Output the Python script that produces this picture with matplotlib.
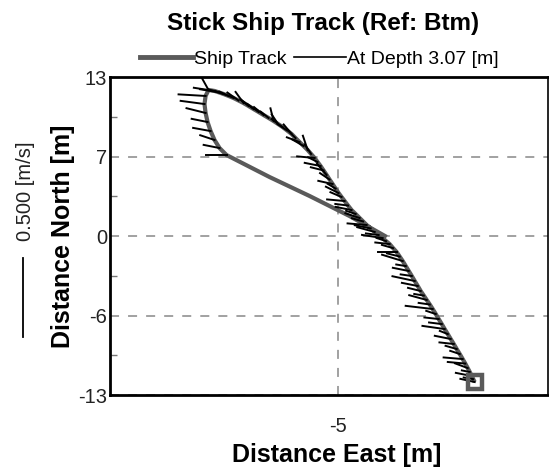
import matplotlib.pyplot as plt
import matplotlib.transforms as mtransforms
from matplotlib.lines import Line2D

plt.rcParams['font.family'] = ['Liberation Sans', 'DejaVu Sans']

# ship track (east, north) in m, starting at the square marker
# lower leg, upper leg, loop back down the west side, then the straight return
track_east = [6.20, 6.08, 5.96, 5.80, 5.63, 5.43, 5.22, 4.98, 4.73, 4.49, 4.24, 4.00,
              3.75, 3.51, 3.26, 3.02, 2.77, 2.53, 2.28, 2.04, 1.79, 1.55, 1.30, 1.06,
              0.81, 0.57, 0.32, 0.07, -0.18, -0.47, -0.75, -1.04, -1.32, -1.65, -1.97,
              -2.30, -2.63, -2.92, -3.20, -3.53, -3.86, -4.15, -4.43, -4.68, -4.92,
              -5.17, -5.41, -5.66, -5.90, -6.15, -6.39, -6.64, -6.88, -7.17, -7.45,
              -7.78, -8.11, -8.44, -8.76, -9.13, -9.50, -9.87, -10.23, -10.64, -11.05,
              -11.46, -11.87, -12.28, -12.69, -13.10, -13.50, -13.91, -14.32, -14.69,
              -15.06, -15.55,
              -15.79, -15.88, -15.79, -15.63, -15.38, -15.06, -14.65, -14.08,
              -10.56, -7.29, -4.02, -0.99]
track_north = [-11.94, -11.70, -11.45, -11.12, -10.80, -10.43, -10.06, -9.65, -9.24,
               -8.83, -8.42, -8.02, -7.61, -7.20, -6.79, -6.38, -5.97, -5.60, -5.23,
               -4.87, -4.50, -4.09, -3.68, -3.27, -2.86, -2.46, -2.05, -1.68, -1.31,
               -0.99, -0.66, -0.42, -0.17, 0.08, 0.33,
               0.62, 0.90, 1.19, 1.47, 1.80, 2.12, 2.49, 2.86, 3.19, 3.51, 3.88, 4.25,
               4.62, 4.99, 5.36, 5.72, 6.05, 6.38, 6.71, 7.03, 7.36, 7.68, 8.01, 8.34,
               8.63, 8.91, 9.16, 9.40, 9.65, 9.89, 10.14, 10.38, 10.63, 10.87, 11.08,
               11.28, 11.45, 11.61, 11.74, 11.86, 11.94,
               11.45, 10.79, 10.06, 9.32, 8.58, 7.85, 7.19, 6.62,
               4.82, 3.27, 1.63, -0.08]

# velocity at depth 3.07 m for each ensemble with valid data (m/s)
vel_east = [-0.09, -0.06, -0.10, -0.05, -0.08, -0.11, -0.12, -0.06, -0.07, -0.09,
            -0.10, -0.05, -0.14, -0.08, -0.09, -0.06, -0.17, -0.07, -0.11, -0.06,
            -0.08, -0.10, -0.14, -0.07, -0.10, -0.06, -0.13, -0.08, -0.12, -0.07,
            -0.09, -0.06, -0.13, -0.08, -0.11,
            -0.10, -0.12, -0.07, -0.09, -0.06, -0.10, -0.08, -0.11, -0.07, -0.08,
            -0.05, -0.09, -0.06, -0.06, -0.08, -0.10, -0.06, -0.11, -0.04, -0.03,
            -0.07, -0.08, -0.05, -0.05, -0.06, -0.07, -0.04, -0.02, -0.05, -0.06,
            -0.07, -0.08, -0.05, -0.05, -0.07, -0.09, -0.08, -0.10, -0.12, -0.13,
            -0.05,
            -0.17, -0.15, -0.12, -0.10, -0.11, -0.09, -0.10, -0.13]
vel_north = [0.02, 0.01, 0.02, 0.01, 0.03, 0.01, 0.01, 0.02, 0.02, 0.01,
             0.02, 0.02, 0.02, 0.01, 0.01, 0.02, 0.02, 0.01, 0.03, 0.01,
             0.02, 0.02, 0.03, 0.01, 0.02, 0.01, 0.04, 0.02, 0.00, 0.02,
             0.01, 0.02, 0.02, 0.01, 0.03,
             0.02, 0.01, 0.02, 0.03, 0.02, 0.02, 0.01, 0.01, 0.03, 0.04,
             0.03, 0.02, 0.04, 0.07, 0.02, 0.02, 0.03, 0.01, 0.06, 0.09,
             0.04, 0.03, 0.05, 0.06, 0.04, 0.05, 0.06, 0.08, 0.04, 0.05,
             0.05, 0.06, 0.04, 0.07, 0.05, 0.04, 0.03, 0.03, 0.02, 0.02,
             0.09,
             0.01, 0.02, 0.03, 0.02, 0.02, 0.03, 0.02, 0.00]

ref_speed = 0.5          # m/s shown by the scale bar
scale = 13.0             # metres of plot per m/s

ytick_pos = [-13, -6.5, 0, 6.5, 13]
ytick_lab = ['-13', '-6', '0', '7', '13']
yminor_pos = [-9.75, -3.25, 3.25, 9.75]
xtick_pos = [-5]
xtick_lab = ['-5']

fig = plt.figure(figsize=(5.49, 4.73), dpi=100)
ax = fig.add_axes([0.2004, 0.1649, 0.798, 0.6723])

track_col = '#5a5a5a'
ax.plot(track_east, track_north, color=track_col, lw=3, solid_capstyle='butt',
        zorder=2)

for i in range(len(vel_east)):
    x0, y0 = track_east[i], track_north[i]
    ax.plot([x0, x0 + vel_east[i] * scale], [y0, y0 + vel_north[i] * scale],
            color='black', lw=1.4, zorder=3)

ax.plot(track_east[0], track_north[0], marker='s', ms=10, mfc='none',
        mec=track_col, mew=3.2, zorder=4)

ax.set_xlim(-23.6, 12.2)
ax.set_ylim(-13, 13)
ax.set_yticks(ytick_pos)
ax.set_yticklabels(ytick_lab)
ax.set_yticks(yminor_pos, minor=True)
ax.set_xticks(xtick_pos)
ax.set_xticklabels(xtick_lab)
ax.tick_params(axis='both', which='major', length=0, labelsize=14.5, labelcolor='#222222')
ax.tick_params(axis='y', which='major', pad=2)
ax.tick_params(axis='x', which='major', pad=16)
ax.tick_params(axis='y', which='minor', direction='in', length=5, width=1, color='#777777')
ax.grid(True, which='major', color='#9a9a9a', ls=(0, (5, 5)), lw=1.3)

for side in ['top', 'bottom', 'left']:
    ax.spines[side].set_linewidth(2)
ax.spines['right'].set_linewidth(1.2)

ax.set_xlabel('Distance East [m]', fontsize=18, fontweight='bold')
ax.xaxis.set_label_coords(0.518, -0.15)
ax.set_ylabel('Distance North [m]', fontsize=18, fontweight='bold', labelpad=2)

fig.text(0.588, 0.951, 'Stick Ship Track (Ref: Btm)', fontsize=17.5, fontweight='bold',
         ha='center', va='center')

handles = [Line2D([], [], color=track_col, lw=3.5),
           Line2D([], [], color='black', lw=1.2)]
fig.legend(handles, ['Ship Track', 'At Depth 3.07 [m]'], loc='center',
           bbox_to_anchor=(0.582, 0.875), ncol=2, frameon=False, fontsize=14,
           handlelength=2.7, handletextpad=0.05, columnspacing=0.4)

# velocity scale bar on the left
trans = mtransforms.blended_transform_factory(fig.transFigure, ax.transData)
ax.add_line(Line2D([0.042, 0.042], [-8.26, -8.26 + ref_speed * scale], color='black',
                   lw=1.3, transform=trans, clip_on=False))
fig.text(0.046, 0.596, '%.3f [m/s]' % ref_speed, rotation=90, fontsize=14.5,
         ha='center', va='center', color='#222222')

fig.savefig('out.png', dpi=100)
